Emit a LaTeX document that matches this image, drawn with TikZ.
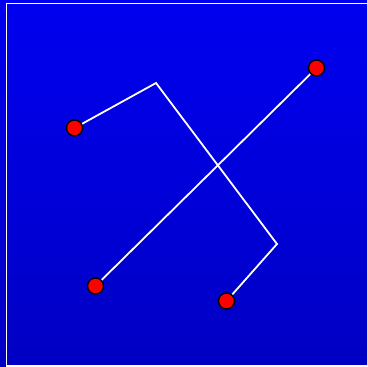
\documentclass[tikz,border=0pt]{standalone}
\pgfdeclarelayer{bg}
\pgfdeclarelayer{wires}
\pgfsetlayers{bg,wires,main}
\begin{document}
\begin{tikzpicture}[x=1pt,y=-1pt,
  dot/.style={circle,fill=red,draw=black,line width=1.4pt,minimum size=16pt,inner sep=0pt},
  wire/.style={draw=white,line width=1.8pt}]
\definecolor{topblue}{RGB}{0,0,240}
\definecolor{botblue}{RGB}{0,0,195}
\useasboundingbox (0,0) rectangle (367,367);
\begin{pgfonlayer}{bg}
\shade[top color=topblue,bottom color=botblue] (0,0) rectangle (367,367);
\draw[white,line width=1.6pt] (6.5,3.5) rectangle (369,366);
\end{pgfonlayer}
\coordinate (b1) at (156,83);
\coordinate (b2) at (277,244);
\node[dot] (p1) at (74.5,128) {};
\node[dot] (p2) at (316.5,68) {};
\node[dot] (p3) at (95.5,286) {};
\node[dot] (p4) at (226.5,301) {};
\begin{pgfonlayer}{wires}
\draw[wire] (p1.center) -- (b1) -- (b2) -- (p4.center);
\draw[wire] (p3.center) -- (p2.center);
\end{pgfonlayer}
\end{tikzpicture}
\end{document}
